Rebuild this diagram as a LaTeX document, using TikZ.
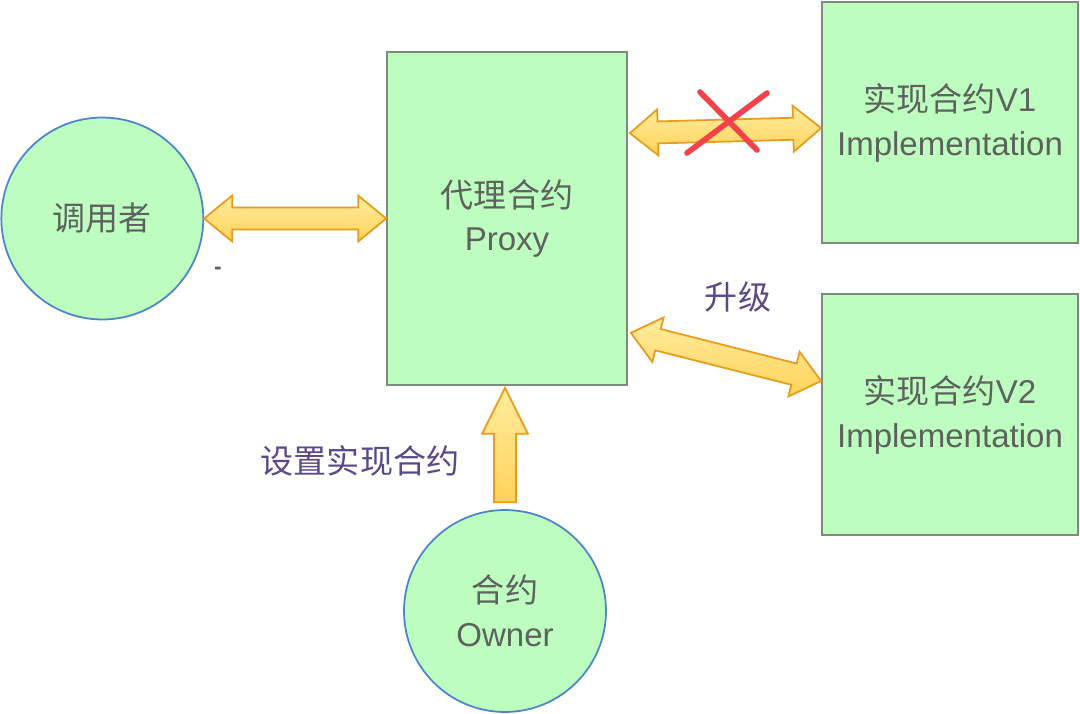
\documentclass[tikz,border=0pt]{standalone}
\usepackage{fontspec}
\setmainfont{Liberation Sans}
\newfontfamily\cjk{Noto Sans CJK SC}
\usetikzlibrary{calc,positioning}
\definecolor{boxgreen}{HTML}{BDFDC0}
\definecolor{boxedge}{HTML}{7F8A7F}
\definecolor{ringedge}{HTML}{4A86C8}
\definecolor{textgray}{HTML}{5E615E}
\definecolor{notepurple}{HTML}{5A4A88}
\definecolor{arrowlight}{HTML}{FFEC9E}
\definecolor{arrowdark}{HTML}{FFD35A}
\definecolor{arrowedge}{HTML}{E89B1C}
\definecolor{crossred}{HTML}{F2434D}
\tikzset{
contract/.style={rectangle,draw=boxedge,fill=boxgreen,line width=1pt,
    text=textgray,align=center,font=\fontsize{18.8}{25}\selectfont},
party/.style={circle,draw=ringedge,fill=boxgreen,line width=1pt,
    minimum size=4.04cm,inner sep=0pt,text=textgray,align=center,
    font=\fontsize{18.8}{25}\selectfont},
note/.style={text=notepurple,font=\fontsize{18.8}{25}\selectfont\cjk},
fatarrow/.style={draw=arrowedge,line width=1pt,line join=miter,
    top color=arrowlight,bottom color=arrowdark},
}
\def\headlen{0.56cm}
\def\uphead{0.92cm}
\def\headw{0.46cm}
\def\shaftw{0.22cm}
% block arrow with two heads, tip to tip
\newcommand{\fatboth}[2]{%
  \draw[fatarrow] (#1)
    -- ($(#1)!\headlen!(#2)!\headw!90:(#2)$)
    -- ($(#1)!\headlen!(#2)!\shaftw!90:(#2)$)
    -- ($(#2)!\headlen!(#1)!\shaftw!-90:(#1)$)
    -- ($(#2)!\headlen!(#1)!\headw!-90:(#1)$)
    -- (#2)
    -- ($(#2)!\headlen!(#1)!\headw!90:(#1)$)
    -- ($(#2)!\headlen!(#1)!\shaftw!90:(#1)$)
    -- ($(#1)!\headlen!(#2)!\shaftw!-90:(#2)$)
    -- ($(#1)!\headlen!(#2)!\headw!-90:(#2)$)
    -- cycle;}
% block arrow with one head at #2
\newcommand{\fatone}[2]{%
  \draw[fatarrow] ($(#1)!\shaftw!90:(#2)$)
    -- ($(#2)!\uphead!(#1)!\shaftw!-90:(#1)$)
    -- ($(#2)!\uphead!(#1)!\headw!-90:(#1)$)
    -- (#2)
    -- ($(#2)!\uphead!(#1)!\headw!90:(#1)$)
    -- ($(#2)!\uphead!(#1)!\shaftw!90:(#1)$)
    -- ($(#1)!\shaftw!-90:(#2)$)
    -- cycle;}

\begin{document}
\begin{tikzpicture}[x=0.02cm,y=-0.02cm]
    \useasboundingbox[fill=white] (0,0) rectangle (1080,714);

    \node[contract,minimum width=4.8cm,minimum height=6.66cm] (proxy)
        at (507,218.5) {{\cjk 代理合约}\\Proxy};
    \node[party,left=3.64cm of proxy] (caller) {\cjk 调用者};
    \node[contract,minimum width=5.12cm,minimum height=4.82cm] (impl1)
        at (950,122.5) {{\cjk 实现合约}V1\\Implementation};
    \node[contract,minimum width=5.12cm,minimum height=4.82cm] (impl2)
        at (950,414.5) {{\cjk 实现合约}V2\\Implementation};
    \node[party] (owner) at (505,611) {{\cjk 合约}\\Owner};

    \node[text=textgray,font=\fontsize{13}{13}\selectfont\bfseries]
        (dot) at (218,271) {-};
    \node[note] (upgrade) at (738,297) {升级};
    \node[note] (setimpl) at (360,461) {设置实现合约};

    \coordinate (p1) at ($(proxy.north east)+(2,82)$);
    \coordinate (i1) at ($(impl1.west)+(0,5.5)$);
    \coordinate (p2) at ($(proxy.south east)+(3,-53)$);
    \coordinate (i2) at ($(impl2.west)+(0,-33.5)$);
    \coordinate (ob) at ($(owner.north)+(0,-7)$);
    \coordinate (pb) at ($(owner.north |- proxy.south)+(0,2)$);

    \fatboth{caller.east}{proxy.west}
    \fatboth{p1}{i1}
    \fatboth{p2}{i2}
    \fatone{ob}{pb}

    % the old link is crossed out
    \draw[crossred,line width=3.2pt,line cap=round]
        (700,92) -- (757,150) (687,153) -- (767,93);
\end{tikzpicture}
\end{document}
